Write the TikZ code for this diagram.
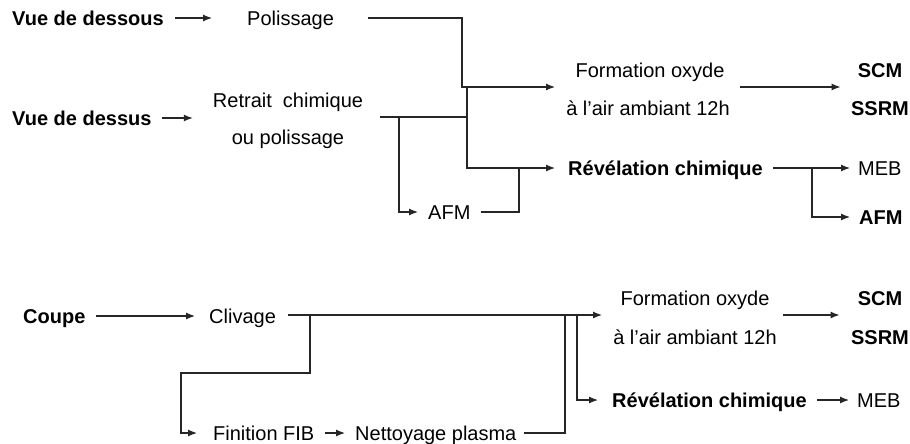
\documentclass[tikz,border=0pt]{standalone}
\usepackage{fontspec}
\setmainfont{Liberation Sans}
\usetikzlibrary{arrows.meta}
\tikzset{
  txt/.style={inner sep=0pt, text height=14.5pt, text depth=0pt, font=\fontsize{20}{24}\selectfont},
  lbl/.style={txt, anchor=west},
  ctr/.style={txt, anchor=center},
  bld/.style={font=\fontsize{20}{24}\selectfont\bfseries},
  conn/.style={line width=1.2pt, draw=black!85},
  arr/.style={conn, -{Latex[length=9pt,width=7pt]}}
}
\begin{document}
\begin{tikzpicture}[x=1pt,y=-1pt]
\useasboundingbox (0,0) rectangle (910,444);
% ---------- top part ----------
\node[lbl,bld] (vdd) at (12,18) {Vue de dessous};
\node[lbl] (pol) at (247,18) {Polissage};
\node[lbl,bld] (vds) at (12,118) {Vue de dessus};
\node[ctr] (ret1) at (288,100) {Retrait\ \ chimique};
\node[ctr] (ret2) at (288,137) {ou polissage};
\node[ctr] (fo1) at (650,70) {Formation oxyde};
\node[ctr] (fo2) at (648,108) {à l’air ambiant 12h};
\node[ctr,bld] (scm) at (880,70) {SCM};
\node[ctr,bld] (ssrm) at (880,108) {SSRM};
\node[lbl,bld] (rev) at (568,168) {Révélation chimique};
\node[lbl] (afm1) at (428,212) {AFM};
\node[lbl] (meb) at (858,168) {MEB};
\node[lbl,bld] (afm2) at (859,217) {AFM};

\coordinate (j1) at (462,87);
\coordinate (in1) at (555,87);
\coordinate (j2) at (467,87);
\coordinate (ja) at (399,117);
\coordinate (jb) at (519,168);
\coordinate (jc) at (812,168);

\draw[arr, shorten <=11pt, shorten >=35pt] (vdd.east) -- (pol.west);
\draw[arr, shorten <=10pt, shorten >=20pt] (vds.east) -- (ret1.west |- vds.east);
\draw[arr, shorten <=34pt] (pol.east) -| (j1) -- (in1);
\draw[conn, shorten <=17pt] (ret1.east |- ja) -- (ja -| j2);
\draw[arr, shorten >=13pt] (j2) |- (rev.west);
\draw[arr, shorten >=10pt] (ja) |- (afm1.west);
\draw[conn, shorten <=10pt] (afm1.east) -| (jb);
\draw[arr, shorten <=10pt, shorten >=17pt] (fo2.east |- in1) -- (scm.west |- in1);
\draw[arr, shorten <=10pt, shorten >=8pt] (rev.east) -- (meb.west);
\draw[arr, shorten >=9pt] (jc) |- (afm2.west);

% ---------- bottom part ----------
\node[lbl,bld] (coupe) at (23,316) {Coupe};
\node[lbl] (cliv) at (209,316) {Clivage};
\node[lbl] (fib) at (213,433) {Finition FIB};
\node[lbl] (net) at (355,433) {Nettoyage plasma};
\node[ctr] (fo3) at (695,298) {Formation oxyde};
\node[ctr] (fo4) at (695,337) {à l’air ambiant 12h};
\node[ctr,bld] (scm2) at (880,298) {SCM};
\node[ctr,bld] (ssrm2) at (880,337) {SSRM};
\node[lbl,bld] (rev2) at (612,400) {Révélation chimique};
\node[lbl] (meb2) at (857,400) {MEB};

\coordinate (in3) at (602,315);
\coordinate (jd) at (310,315);
\coordinate (jf) at (181,373);
\coordinate (jg) at (565,315);
\coordinate (jh) at (577,315);

\draw[arr, shorten <=10pt, shorten >=14pt] (coupe.east) -- (cliv.west);
\draw[arr, shorten <=12pt] (cliv.east |- in3) -- (in3);
\draw[arr, shorten >=16pt] (jd) |- (jf) |- (fib.west);
\draw[arr, shorten <=10pt, shorten >=10pt] (fib.east) -- (net.west);
\draw[conn, shorten <=7pt] (net.east) -| (jg);
\draw[arr, shorten >=14pt] (jh) |- (rev2.west);
\draw[arr, shorten <=6pt, shorten >=18pt] (fo4.east |- in3) -- (scm2.west |- in3);
\draw[arr, shorten <=10pt, shorten >=8pt] (rev2.east) -- (meb2.west);
\end{tikzpicture}
\end{document}
